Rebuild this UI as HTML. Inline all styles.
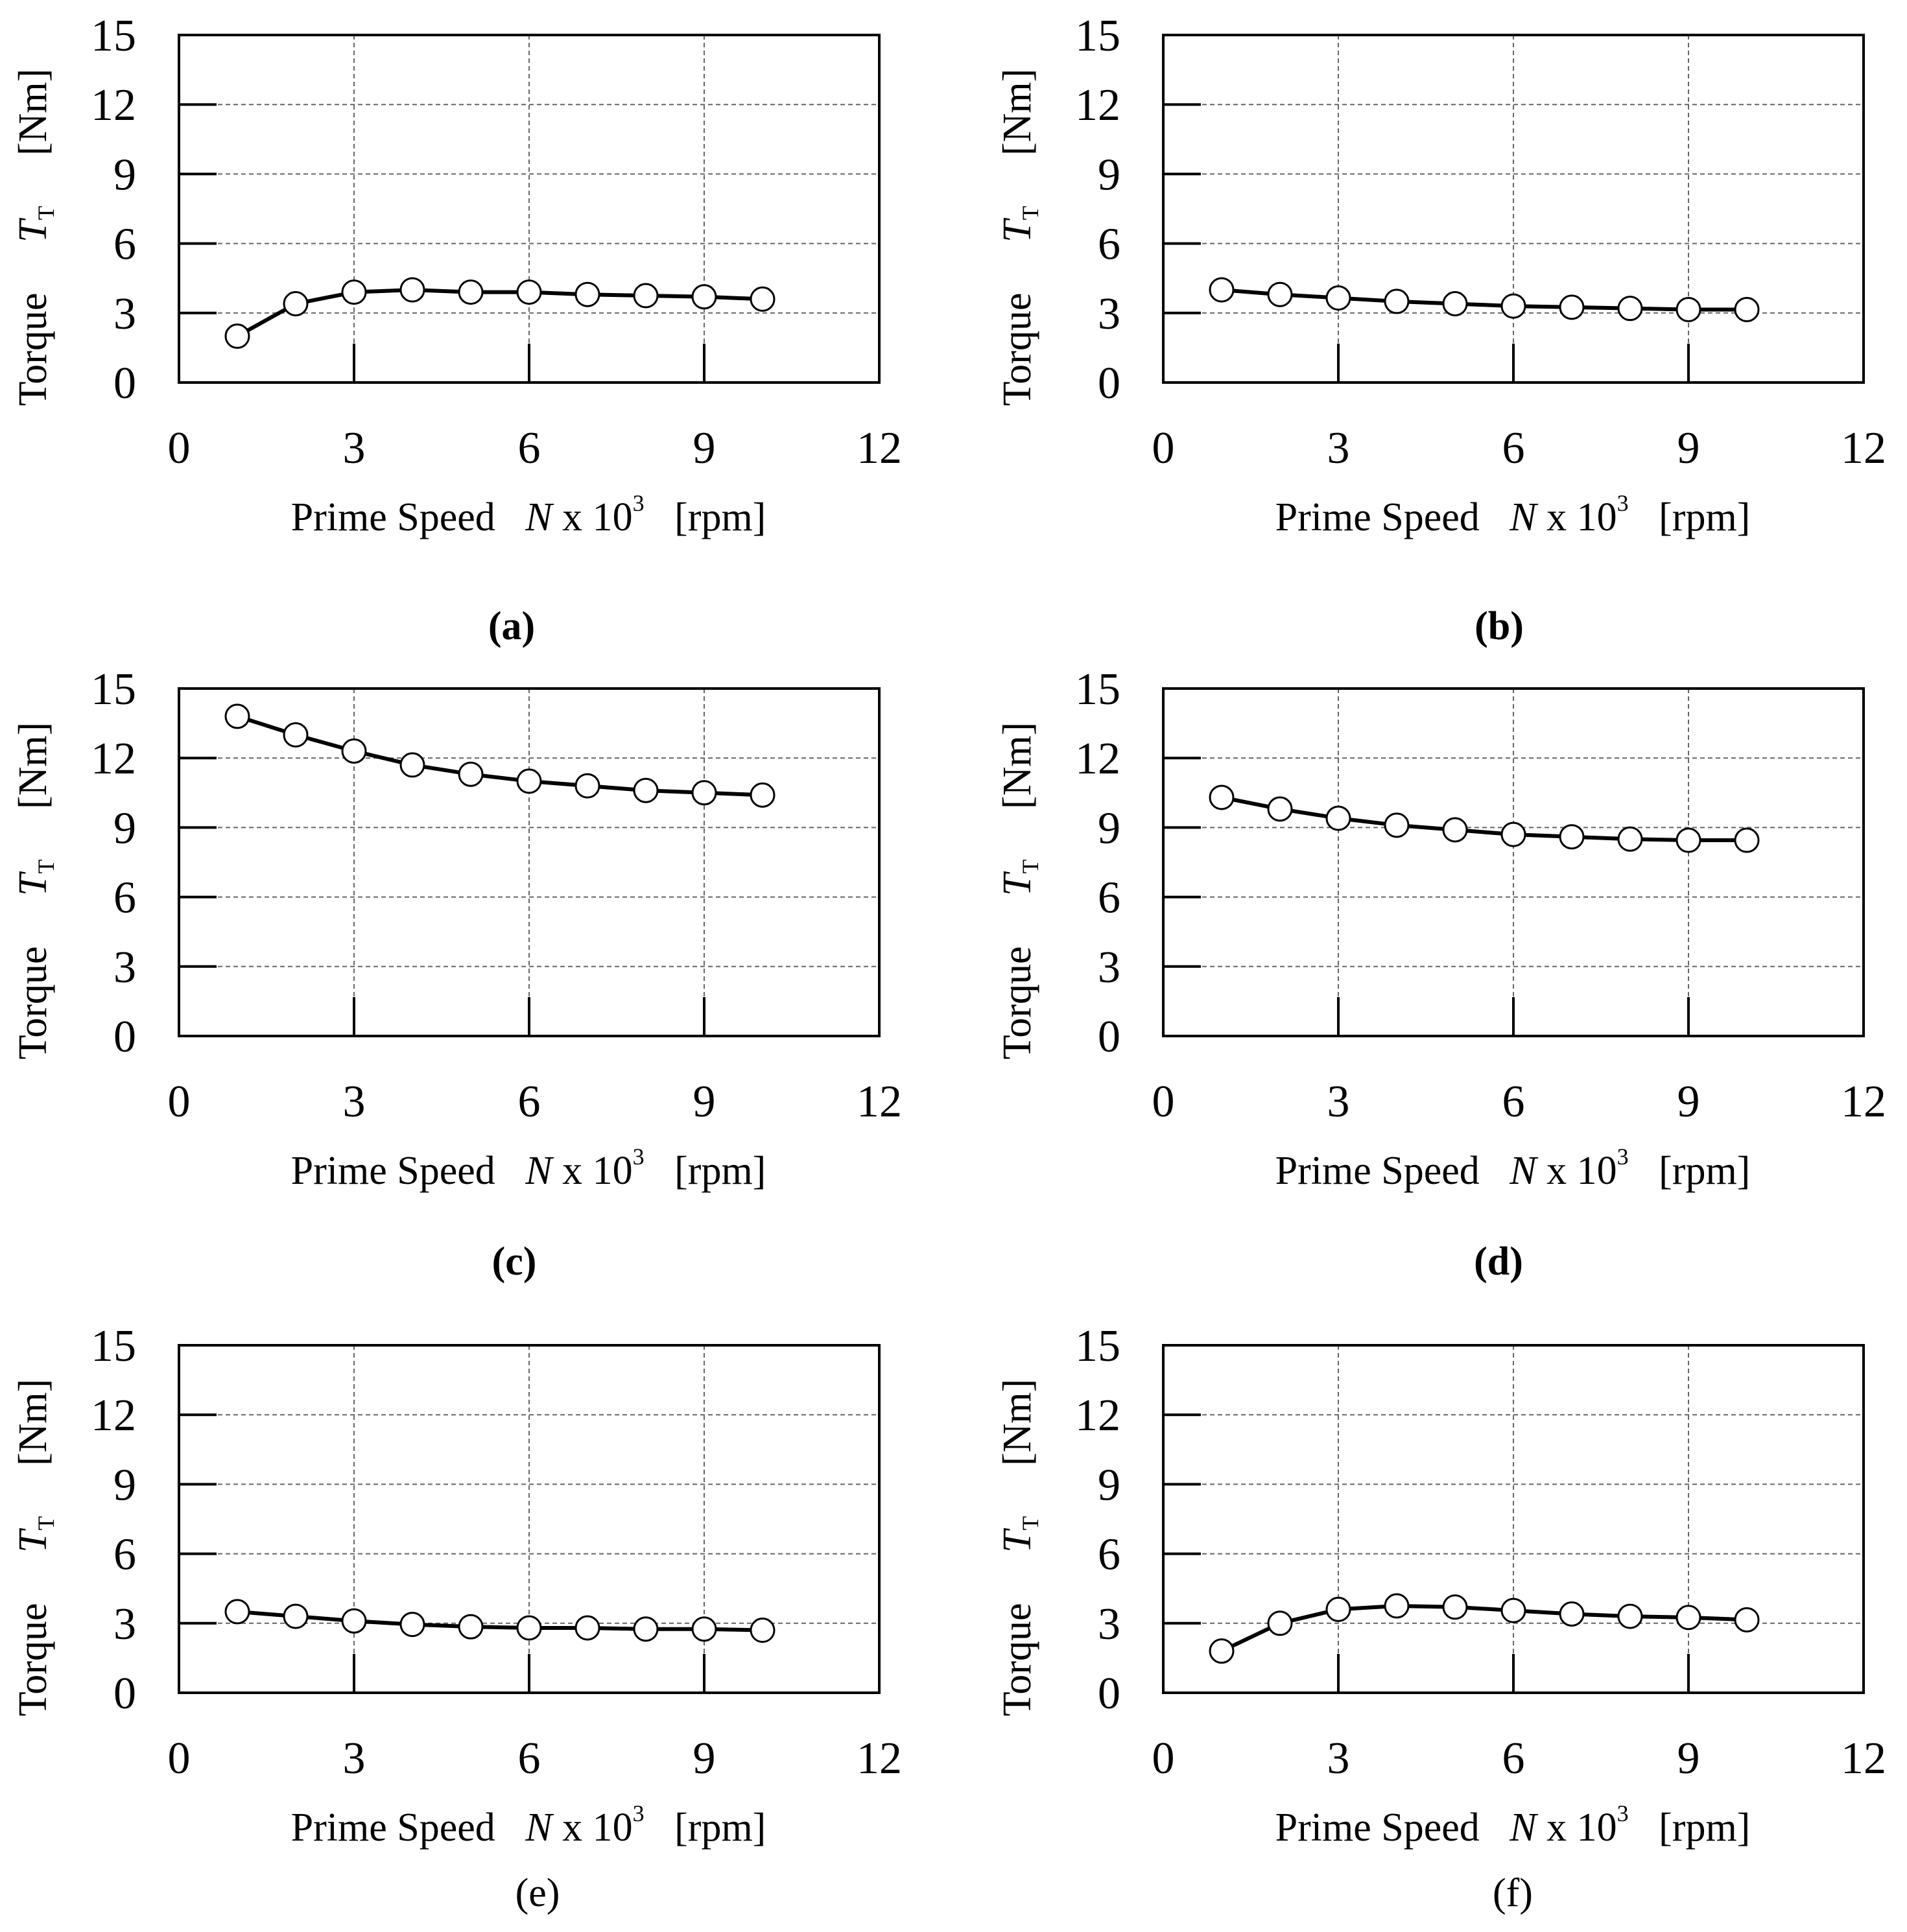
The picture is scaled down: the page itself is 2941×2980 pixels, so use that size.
<!DOCTYPE html>
<html><head><meta charset="utf-8"><style>
body{margin:0;background:#fff}
svg{display:block}
text{font-family:"Liberation Serif",serif;fill:#000}
</style></head><body>
<svg id="fig" width="2941" height="2980" viewBox="0 0 2941 2980" xmlns="http://www.w3.org/2000/svg"></svg>
<script>
const speeds=[1,2,3,4,5,6,7,8,9,10];
const seriesA=[2.0,3.4,3.9,4.0,3.9,3.9,3.8,3.75,3.7,3.6];
const seriesB=[4.0,3.8,3.65,3.5,3.4,3.3,3.25,3.2,3.15,3.15];
const seriesC=[13.8,13.0,12.3,11.7,11.3,11.0,10.8,10.6,10.5,10.4];
const seriesD=[10.3,9.8,9.4,9.1,8.9,8.7,8.6,8.5,8.45,8.45];
const seriesE=[3.5,3.3,3.1,2.95,2.85,2.8,2.8,2.75,2.75,2.7];
const seriesF=[1.8,3.0,3.6,3.75,3.7,3.55,3.4,3.3,3.25,3.15];
const xTicks=[0,3,6,9,12];
const yTicks=[0,3,6,9,12,15];
const panelLabels=["(a)","(b)","(c)","(d)","(e)","(f)"];

const NS="http://www.w3.org/2000/svg";
const svg=document.getElementById('fig');
function mk(tag,attrs,parent){const e=document.createElementNS(NS,tag);for(const k in attrs)e.setAttribute(k,attrs[k]);(parent||svg).appendChild(e);return e;}

const panels=[
 {data:seriesA,L:276,T:54,lx:789,ly:964,bold:true},
 {data:seriesB,L:1794,T:54,lx:2312,ly:964,bold:true},
 {data:seriesC,L:276,T:1062,lx:793,ly:1944,bold:true},
 {data:seriesD,L:1794,T:1062,lx:2311,ly:1944,bold:true},
 {data:seriesE,L:276,T:2075,lx:829,ly:2918,bold:false},
 {data:seriesF,L:1794,T:2075,lx:2333,ly:2918,bold:false}
];
const W=1080,H=536;
panels.forEach((p,i)=>{
 const g=mk('g',{});
 
 
 const xs=v=>p.L+v/12*W, ys=v=>p.T+H-v/15*H;
 yTicks.forEach(t=>{if(t>0&&t<15){const l=mk('line',{x1:p.L,x2:p.L+W,y1:ys(t),y2:ys(t),stroke:'#666','stroke-width':2,'stroke-dasharray':'7,5'},g);
   
   
   mk('line',{x1:p.L,x2:p.L+58,y1:ys(t),y2:ys(t),stroke:'#000','stroke-width':4},g);}});
 xTicks.forEach(t=>{if(t>0&&t<12){const l=mk('line',{x1:xs(t),x2:xs(t),y1:p.T,y2:p.T+H,stroke:'#666','stroke-width':2,'stroke-dasharray':'7,5'},g);
   
   
   mk('line',{x1:xs(t),x2:xs(t),y1:p.T+H-60,y2:p.T+H,stroke:'#000','stroke-width':4},g);}});
 const fr=mk('rect',{x:p.L,y:p.T,width:W,height:H,fill:'none',stroke:'#000','stroke-width':4},g);
 
 
 yTicks.forEach(t=>{const tx=mk('text',{x:p.L-66,y:ys(t)+24,'font-size':70,'text-anchor':'end'},g);tx.textContent=t;
   
   });
 xTicks.forEach(t=>{const tx=mk('text',{x:xs(t),y:p.T+660,'font-size':70,'text-anchor':'middle'},g);tx.textContent=t;
   
   });
 const xt=mk('text',{x:p.L+539,y:p.T+764,'font-size':62,'text-anchor':'middle'},g);
 
 
 xt.innerHTML='Prime Speed\u2002 <tspan font-style="italic">N</tspan> x 10<tspan font-size="36" dy="-30">3</tspan><tspan dy="30">\u2002 [rpm]</tspan>';
 const yt=mk('text',{x:0,y:0,'font-size':62,'text-anchor':'middle',transform:`translate(${p.L-205},${p.T+312}) rotate(-90)`},g);
 
 
 yt.innerHTML='Torque\u2003 <tspan font-style="italic">T</tspan><tspan font-size="36" dy="12">T</tspan><tspan dy="-12">\u2003 [Nm]</tspan>';
 const pts=speeds.map((s,k)=>xs(s)+','+ys(p.data[k])).join(' ');
 const pl=mk('polyline',{points:pts,fill:'none',stroke:'#000','stroke-width':6,'stroke-linejoin':'round'},g);
 
 
 speeds.forEach((s,k)=>{const c=mk('circle',{cx:xs(s),cy:ys(p.data[k]),r:18,fill:'#fff',stroke:'#000','stroke-width':3},g);
   
   });
 const lb=mk('text',{x:p.lx,y:p.ly+22,'font-size':62,'text-anchor':'middle','font-weight':p.bold?'bold':'normal'},g);
 lb.textContent=panelLabels[i];
 
 
});
</script>
</body></html>
